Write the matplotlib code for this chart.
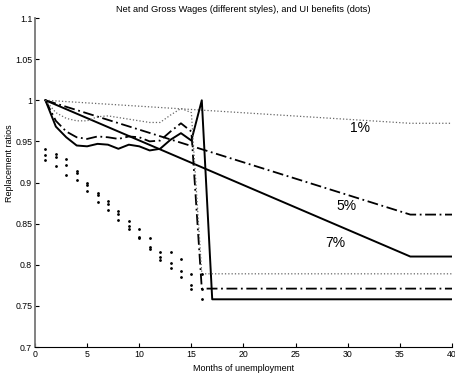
import numpy as np
import matplotlib
matplotlib.use("Agg")
import matplotlib.pyplot as plt

plt.rcParams['font.family'] = ['Liberation Sans', 'DejaVu Sans']

# gross wages (straight depreciation until month 36, then flat)
gross_months = [1, 36, 40]
gross_1 = [1.0, 0.972, 0.972]
gross_5 = [1.0, 0.861, 0.861]
gross_7 = [1.0, 0.810, 0.810]

# net wages
net_months_7 = [1, 2, 3, 4, 5, 6, 7, 8, 9, 10, 11, 12, 13, 14, 15, 16, 17, 40]
net_7 = [1.0, 0.968, 0.955, 0.945, 0.944, 0.947, 0.946, 0.941, 0.946, 0.944,
         0.939, 0.941, 0.952, 0.960, 0.951, 1.0, 0.758, 0.758]
net_months = [1, 2, 3, 4, 5, 6, 7, 8, 9, 10, 11, 12, 13, 14, 15, 16, 40]
net_5 = [1.0, 0.975, 0.962, 0.955, 0.953, 0.956, 0.955, 0.953, 0.956, 0.955,
         0.950, 0.951, 0.962, 0.972, 0.962, 0.771, 0.771]
net_1 = [1.0, 0.985, 0.978, 0.975, 0.975, 0.980, 0.981, 0.979, 0.977, 0.975,
         0.973, 0.973, 0.982, 0.990, 0.985, 0.789, 0.789]

# UI benefits
ui_months = list(range(1, 17))
ui_1 = [0.941, 0.935, 0.929, 0.914, 0.899, 0.887, 0.877, 0.865, 0.853, 0.843,
        0.833, 0.815, 0.815, 0.807, 0.789, 0.789]
ui_5 = [0.934, 0.931, 0.921, 0.912, 0.897, 0.885, 0.874, 0.862, 0.847, 0.834,
        0.822, 0.810, 0.802, 0.793, 0.776, 0.771]
ui_7 = [0.927, 0.920, 0.909, 0.903, 0.890, 0.876, 0.866, 0.855, 0.844, 0.832,
        0.819, 0.806, 0.796, 0.785, 0.771, 0.758]

labels = ["1%", "5%", "7%"]
label_x = [31.2, 29.9, 28.8]
label_y = [0.966, 0.871, 0.827]

fig = plt.figure(figsize=(4.55, 3.76), dpi=100)
ax = fig.add_axes([0.0769, 0.0771, 0.9165, 0.875])

dashdot = (0, (6, 2, 1, 2))
ax.plot(gross_months, gross_7, "-", color="black", lw=1.4)
ax.plot(gross_months, gross_5, linestyle=dashdot, color="black", lw=1.3)
ax.plot(gross_months, gross_1, ":", color="#666666", lw=0.9)

ax.plot(net_months_7, net_7, "-", color="black", lw=1.4)
ax.plot(net_months, net_5, linestyle=dashdot, color="black", lw=1.3)
ax.plot(net_months, net_1, ":", color="#666666", lw=0.9)

for ui in (ui_1, ui_5, ui_7):
    ax.plot(ui_months, ui, ".", color="black", ms=2)

for lab, x, y in zip(labels, label_x, label_y):
    ax.text(x, y, lab, ha="center", va="center", fontsize=10)

ax.set_xlim(0, 40)
ax.set_ylim(0.7, 1.1)
ax.set_xticks(np.arange(0, 41, 5))
ax.set_yticks([0.7, 0.75, 0.8, 0.85, 0.9, 0.95, 1.0, 1.05, 1.1])
ax.set_yticklabels(["0.7", "0.75", "0.8", "0.85", "0.9", "0.95", "1", "1.05", "1.1"])
ax.tick_params(direction="in", length=3, labelsize=6.3, width=0.8, pad=2)
ax.spines["top"].set_visible(False)
ax.spines["right"].set_visible(False)
ax.spines["left"].set_color("#777777")
ax.spines["left"].set_linewidth(1.3)
ax.spines["bottom"].set_linewidth(0.8)

ax.set_title("Net and Gross Wages (different styles), and UI benefits (dots)", fontsize=6.7, pad=4)
ax.set_xlabel("Months of unemployment", fontsize=6.5, labelpad=4)
ax.set_ylabel("Replacement ratios", fontsize=6.5)
ax.yaxis.set_label_coords(-0.05, 0.56)

fig.savefig("out.png", dpi=100)
